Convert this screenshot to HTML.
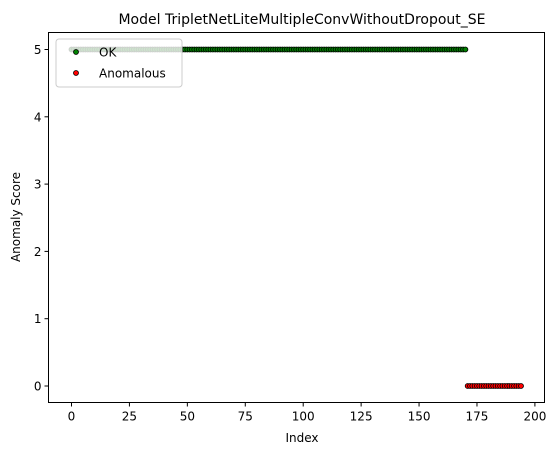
<!DOCTYPE html>
<html><head><meta charset="utf-8"><style>
body{margin:0;background:#fff;}
svg{display:block;font-family:"DejaVu Sans","Liberation Sans",sans-serif;}
</style></head><body>
<svg id="c" width="558" height="455" xmlns="http://www.w3.org/2000/svg">
<text x="302" y="24" font-size="14" text-anchor="middle">Model TripletNetLiteMultipleConvWithoutDropout_SE</text>
<g id="marks"></g>
<g id="axes"></g>
<text x="302" y="442" font-size="12" text-anchor="middle">Index</text>
<text x="20" y="217" font-size="12" text-anchor="middle" transform="rotate(-90 20 217)">Anomaly Score</text>
<g>
<rect x="56" y="39" width="126" height="48" rx="3" fill="#fff" fill-opacity="0.8" stroke="#ccc"/>
<circle cx="76" cy="52" r="2.5" fill="green" stroke="#000" stroke-width="0.8"/>
<text x="99" y="56.5" font-size="12">OK</text>
<circle cx="76" cy="73" r="2.5" fill="red" stroke="#000" stroke-width="0.8"/>
<text x="99" y="77.5" font-size="12">Anomalous</text>
</g>
</svg>
<script>
const okStart = 0, okEnd = 170, okScore = 5;
const anomStart = 171, anomEnd = 194, anomScore = 0;
const xTicks = [0,25,50,75,100,125,150,175,200];
const yTicks = [0,1,2,3,4,5];
const L=48.5,R=544.5,T=32.5,B=402.5;
const xs=v=>71.5+v*2.317;
const ys=v=>386-v*67.3;
const NS='http://www.w3.org/2000/svg';
const marks=document.getElementById('marks');
const axes=document.getElementById('axes');
function dot(i,s,fill){
  const c=document.createElementNS(NS,'circle');
  c.setAttribute('cx',xs(i));c.setAttribute('cy',ys(s));c.setAttribute('r',2.5);
  c.setAttribute('fill',fill);c.setAttribute('stroke','#000');c.setAttribute('stroke-width',0.8);
  
  
  marks.appendChild(c);
}
for(let i=okStart;i<=okEnd;i++)dot(i,okScore,'green');
for(let i=anomStart;i<=anomEnd;i++)dot(i,anomScore,'red');
const fr=document.createElementNS(NS,'rect');
fr.setAttribute('x',L);fr.setAttribute('y',T);fr.setAttribute('width',R-L);fr.setAttribute('height',B-T);
fr.setAttribute('fill','none');fr.setAttribute('stroke','#000');fr.setAttribute('stroke-width',1);


axes.appendChild(fr);
xTicks.forEach(v=>{
  const l=document.createElementNS(NS,'line');
  l.setAttribute('x1',xs(v));l.setAttribute('x2',xs(v));l.setAttribute('y1',B);l.setAttribute('y2',B+4);l.setAttribute('stroke','#000');
  
  
  axes.appendChild(l);
  const t=document.createElementNS(NS,'text');
  t.setAttribute('x',xs(v));t.setAttribute('y',B+18);t.setAttribute('font-size',12);t.setAttribute('text-anchor','middle');
  t.textContent=v;
  
  
  axes.appendChild(t);
});
yTicks.forEach(v=>{
  const l=document.createElementNS(NS,'line');
  l.setAttribute('x1',L-4);l.setAttribute('x2',L);l.setAttribute('y1',ys(v));l.setAttribute('y2',ys(v));l.setAttribute('stroke','#000');
  
  
  axes.appendChild(l);
  const t=document.createElementNS(NS,'text');
  t.setAttribute('x',L-7);t.setAttribute('y',ys(v)+4.5);t.setAttribute('font-size',12);t.setAttribute('text-anchor','end');
  t.textContent=v;
  
  
  axes.appendChild(t);
});
</script>
</body></html>
